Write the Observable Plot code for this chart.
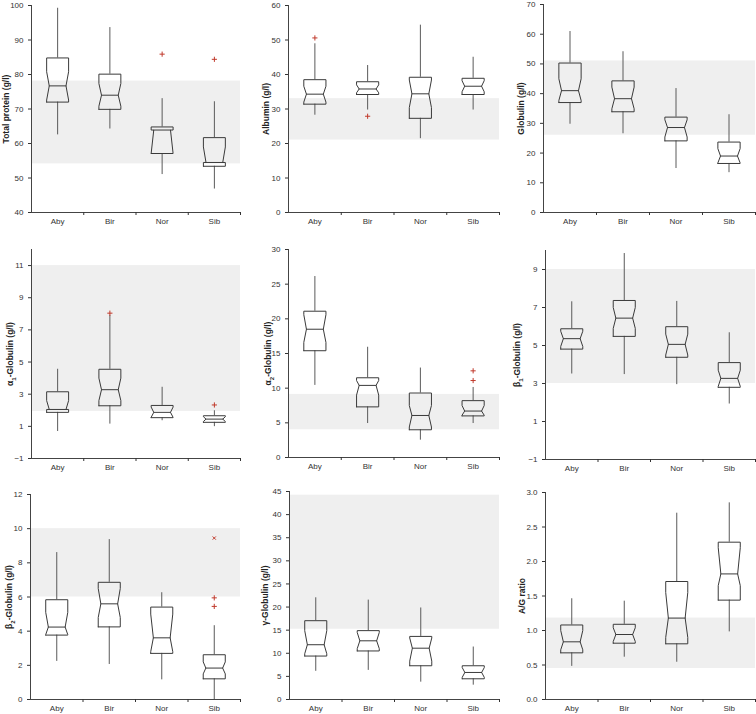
<!DOCTYPE html>
<html><head><meta charset="utf-8">
<script src="https://cdn.jsdelivr.net/npm/d3@7"></script>
<script src="https://cdn.jsdelivr.net/npm/@observablehq/plot@0.6"></script>
<style>
body{margin:0;background:#fff}
#wrap{position:relative;width:756px;height:714px;overflow:hidden}
.panel{position:absolute}
</style>
</head><body><div id="wrap"></div>
<script>
const groups = ["Aby", "Bir", "Nor", "Sib"];
// per group: [whiskerLow, Q1, notchLow, median, notchHigh, Q3, whiskerHigh]
const totalProteinStats = [[62.5,72.0,72.6,76.7,80.8,84.8,99.2],[64.2,69.9,70.8,74.0,77.4,80.1,93.6],[51.0,57.1,57.1,63.9,63.9,64.8,73.0],[46.8,53.4,54.5,54.5,59.0,61.7,72.1]];
const totalProteinOutliers = [["Nor",85.9],["Sib",84.4]];
const totalProteinRef = [54.1, 78.1];

const albuminStats = [[28.2,31.4,32.0,34.3,36.6,38.5,48.9],[29.7,34.2,34.7,35.8,37.0,37.9,42.6],[21.4,27.3,30.4,34.4,38.4,39.2,54.3],[29.7,34.2,35.0,36.6,38.2,38.9,45.0]];
const albuminOutliers = [["Aby",50.6],["Bir",27.9]];
const albuminRef = [21.0, 33.0];

const globulinStats = [[29.7,37.0,37.7,41.0,45.0,50.3,60.9],[26.5,33.9,34.9,38.3,42.2,44.3,54.1],[14.8,24.1,25.4,28.6,31.2,32.1,41.7],[13.4,16.5,16.7,19.0,21.5,23.7,32.9]];
const globulinOutliers = [];
const globulinRef = [26.0, 51.0];

const alpha1Stats = [[0.68,1.87,2.05,2.05,2.6,3.15,4.55],[1.14,2.28,2.6,3.28,4.0,4.55,7.9],[1.35,1.54,1.56,1.87,2.2,2.3,3.43],[0.98,1.25,1.3,1.45,1.6,1.66,1.97]];
const alpha1Outliers = [["Bir",8.04],["Sib",2.33]];
const alpha1Ref = [1.93, 11.0];

const alpha2Stats = [[10.4,15.4,16.6,18.5,20.6,21.1,26.1],[4.9,7.3,9.0,10.4,11.1,11.5,15.9],[2.5,4.0,4.4,6.06,7.5,9.3,12.9],[4.9,6.0,6.1,6.7,7.5,8.2,10.1]];
const alpha2Outliers = [["Sib",12.5],["Sib",11.1]];
const alpha2Ref = [4.0, 9.1];

const beta1Stats = [[3.5,4.81,4.95,5.36,5.75,5.88,7.3],[3.47,5.48,5.9,6.44,7.0,7.37,9.84],[2.94,4.38,4.5,5.06,5.6,5.99,7.32],[1.92,2.8,2.85,3.27,3.7,4.1,5.67]];
const beta1Outliers = [];
const beta1Ref = [3.0, 9.0];

const beta2Stats = [[2.23,3.77,3.8,4.24,5.1,5.84,8.6],[2.05,4.25,4.8,5.6,6.5,6.86,9.36],[1.15,2.7,2.8,3.61,5.0,5.41,6.25],[0,1.21,1.5,1.84,2.2,2.62,4.32]];
const beta2Outliers = [["Sib",5.95],["Sib",5.45]];
const beta2Extremes = [["Sib",9.45]];
const beta2Ref = [6.0, 10.0];

const gammaStats = [[6.1,9.4,9.9,11.85,14.9,17.05,22.0],[6.3,10.5,11.0,12.7,14.5,14.9,21.5],[3.75,7.3,8.3,11.1,13.3,13.65,19.8],[3.1,4.48,4.8,5.85,6.9,7.3,11.35]];
const gammaOutliers = [];
const gammaRef = [15.2, 44.2];

const agStats = [[0.48,0.676,0.72,0.836,1.0,1.08,1.46],[0.613,0.816,0.84,0.942,1.04,1.09,1.425],[0.54,0.807,0.9,1.18,1.55,1.71,2.70],[0.98,1.44,1.65,1.82,2.2,2.28,2.85]];
const agOutliers = [];
const agRef = [0.45, 1.18];

const panels = [
  {stats: totalProteinStats, out: totalProteinOutliers, ext: [], ref: totalProteinRef, label: "Total protein (g/l)", domain:[40,100], ticks: d3.range(40,101,10), fmt: d3.format("d"),
   left:0, top:0, w:252, h:240, mL:31, mR:12, mT:5, mB:28, lab:25},
  {stats: albuminStats, out: albuminOutliers, ext: [], ref: albuminRef, label: "Albumin (g/l)", domain:[0,60], ticks: d3.range(0,61,10), fmt: d3.format("d"),
   left:252, top:0, w:252, h:240, mL:36, mR:5, mT:5, mB:28, lab:22},
  {stats: globulinStats, out: globulinOutliers, ext: [], ref: globulinRef, label: "Globulin (g/l)", domain:[0,70], ticks: d3.range(0,71,10), fmt: d3.format("d"),
   left:504, top:0, w:252, h:240, mL:39, mR:1, mT:4, mB:28, lab:22},
  {stats: alpha1Stats, out: alpha1Outliers, ext: [], ref: alpha1Ref, label: "α₁-Globulin (g/l)", domain:[-1,12], ticks: d3.range(-1,12,2), fmt: d3.format("d"),
   left:0, top:240, w:252, h:240, mL:31, mR:12, mT:9, mB:22, lab:21},
  {stats: alpha2Stats, out: alpha2Outliers, ext: [], ref: alpha2Ref, label: "α₂-Globulin (g/l)", domain:[0,30], ticks: d3.range(0,31,5), fmt: d3.format("d"),
   left:252, top:240, w:252, h:240, mL:36, mR:5, mT:9, mB:23, lab:20},
  {stats: beta1Stats, out: beta1Outliers, ext: [], ref: beta1Ref, label: "β₁-Globulin (g/l)", domain:[-1,10], ticks: d3.range(-1,10,2), fmt: d3.format("d"),
   left:504, top:240, w:252, h:240, mL:41, mR:1, mT:10, mB:21, lab:28},
  {stats: beta2Stats, out: beta2Outliers, ext: beta2Extremes, ref: beta2Ref, label: "β₂-Globulin (g/l)", domain:[0,12], ticks: d3.range(0,13,2), fmt: d3.format("d"),
   left:0, top:480, w:252, h:234, mL:30, mR:12, mT:14, mB:15, lab:21},
  {stats: gammaStats, out: gammaOutliers, ext: [], ref: gammaRef, label: "γ-Globulin (g/l)", domain:[0,45], ticks: d3.range(0,46,5), fmt: d3.format("d"),
   left:252, top:480, w:252, h:234, mL:37, mR:5, mT:11, mB:15, lab:24},
  {stats: agStats, out: agOutliers, ext: [], ref: agRef, label: "A/G ratio", domain:[0,3], ticks: d3.range(0,3.01,0.5), fmt: d3.format(".1f"),
   left:504, top:480, w:252, h:234, mL:41, mR:1, mT:12, mB:15, lab:23}
];

const HW = 0.21, WW = 0.16;
const SUBS = {"₁": "1", "₂": "2"};
const wrap = document.getElementById("wrap");

for (const p of panels) {
  const boxes = p.stats.map((s, i) => ({i, g: groups[i], lo: s[0], q1: s[1], nlo: s[2], med: s[3], nhi: s[4], q3: s[5], hi: s[6]}));
  const outline = boxes.flatMap(b => [
    [b.i - HW, b.q1], [b.i - HW, b.nlo], [b.i - WW, b.med], [b.i - HW, b.nhi], [b.i - HW, b.q3],
    [b.i + HW, b.q3], [b.i + HW, b.nhi], [b.i + WW, b.med], [b.i + HW, b.nlo], [b.i + HW, b.q1], [b.i - HW, b.q1]
  ].map(([x, y]) => ({g: b.g, x, y})));
  const medians = boxes.flatMap(b => [{g: b.g, x: b.i - WW, y: b.med}, {g: b.g, x: b.i + WW, y: b.med}]);
  const outs = p.out.map(([g, v]) => ({x: groups.indexOf(g), y: v}));
  const exts = p.ext.map(([g, v]) => ({x: groups.indexOf(g), y: v}));

  const chart = Plot.plot({
    width: p.w, height: p.h,
    marginLeft: p.mL, marginRight: p.mR, marginTop: p.mT, marginBottom: p.mB,
    style: {fontFamily: "'Liberation Sans', Arial, sans-serif", fontSize: "8px", color: "#333", background: "transparent"},
    x: {type: "linear", domain: [-0.5, 3.5]},
    y: {domain: p.domain},
    marks: [
      Plot.rect([p.ref], {x1: () => -0.5, x2: () => 3.5, y1: d => d[0], y2: d => d[1], fill: "#efefef"}),
      Plot.ruleX(boxes, {x: "i", y1: "q3", y2: "hi", stroke: "#5a5a5a", strokeWidth: 1}),
      Plot.ruleX(boxes, {x: "i", y1: "lo", y2: "q1", stroke: "#5a5a5a", strokeWidth: 1}),
      Plot.line(outline, {x: "x", y: "y", z: "g", stroke: "#3a3a3a", strokeWidth: 1, curve: "linear"}),
      Plot.line(medians, {x: "x", y: "y", z: "g", stroke: "#3a3a3a", strokeWidth: 1}),
      Plot.dot(outs, {x: "x", y: "y", symbol: "plus", r: 1.8, stroke: "#c0392b", strokeWidth: 1}),
      Plot.dot(exts, {x: "x", y: "y", symbol: "times", r: 1.6, stroke: "#c0392b", strokeWidth: 1}),
      Plot.ruleX([-0.5], {stroke: "#444"}),
      Plot.ruleY([p.domain[0]], {stroke: "#444"}),
      Plot.axisY({ticks: p.ticks, tickFormat: p.fmt, tickSize: 3, tickPadding: 5, label: null}),
      Plot.axisX({ticks: [0.5, 1.5, 2.5, 3.5], tickSize: 3, tickFormat: () => "", label: null}),
      Plot.axisX({ticks: [0, 1, 2, 3], tickSize: 0, tickPadding: 6, tickFormat: i => groups[i], label: null}),
      Plot.text([p.label], {frameAnchor: "left", rotate: -90, dx: -p.lab, text: d => d, fontWeight: "bold", fontSize: 8.5, fill: "#222", textAnchor: "middle"})
    ]
  });

  // render Unicode subscripts as smaller lowered digits
  d3.select(chart).selectAll("text").each(function() {
    const t = this.textContent;
    if (!/[₁₂]/.test(t)) return;
    const el = d3.select(this);
    el.text(null);
    const parts = t.split(/([₁₂])/).filter(s => s.length);
    let shifted = false;
    for (const s of parts) {
      if (SUBS[s]) {
        el.append("tspan").attr("font-size", 6).attr("dy", "2.5").text(SUBS[s]);
        shifted = true;
      } else {
        const ts = el.append("tspan").text(s);
        if (shifted) { ts.attr("dy", "-2.5"); shifted = false; }
      }
    }
  });

  const div = document.createElement("div");
  div.className = "panel";
  div.style.left = p.left + "px";
  div.style.top = p.top + "px";
  div.appendChild(chart);
  wrap.appendChild(div);
}
</script>
</body></html>
